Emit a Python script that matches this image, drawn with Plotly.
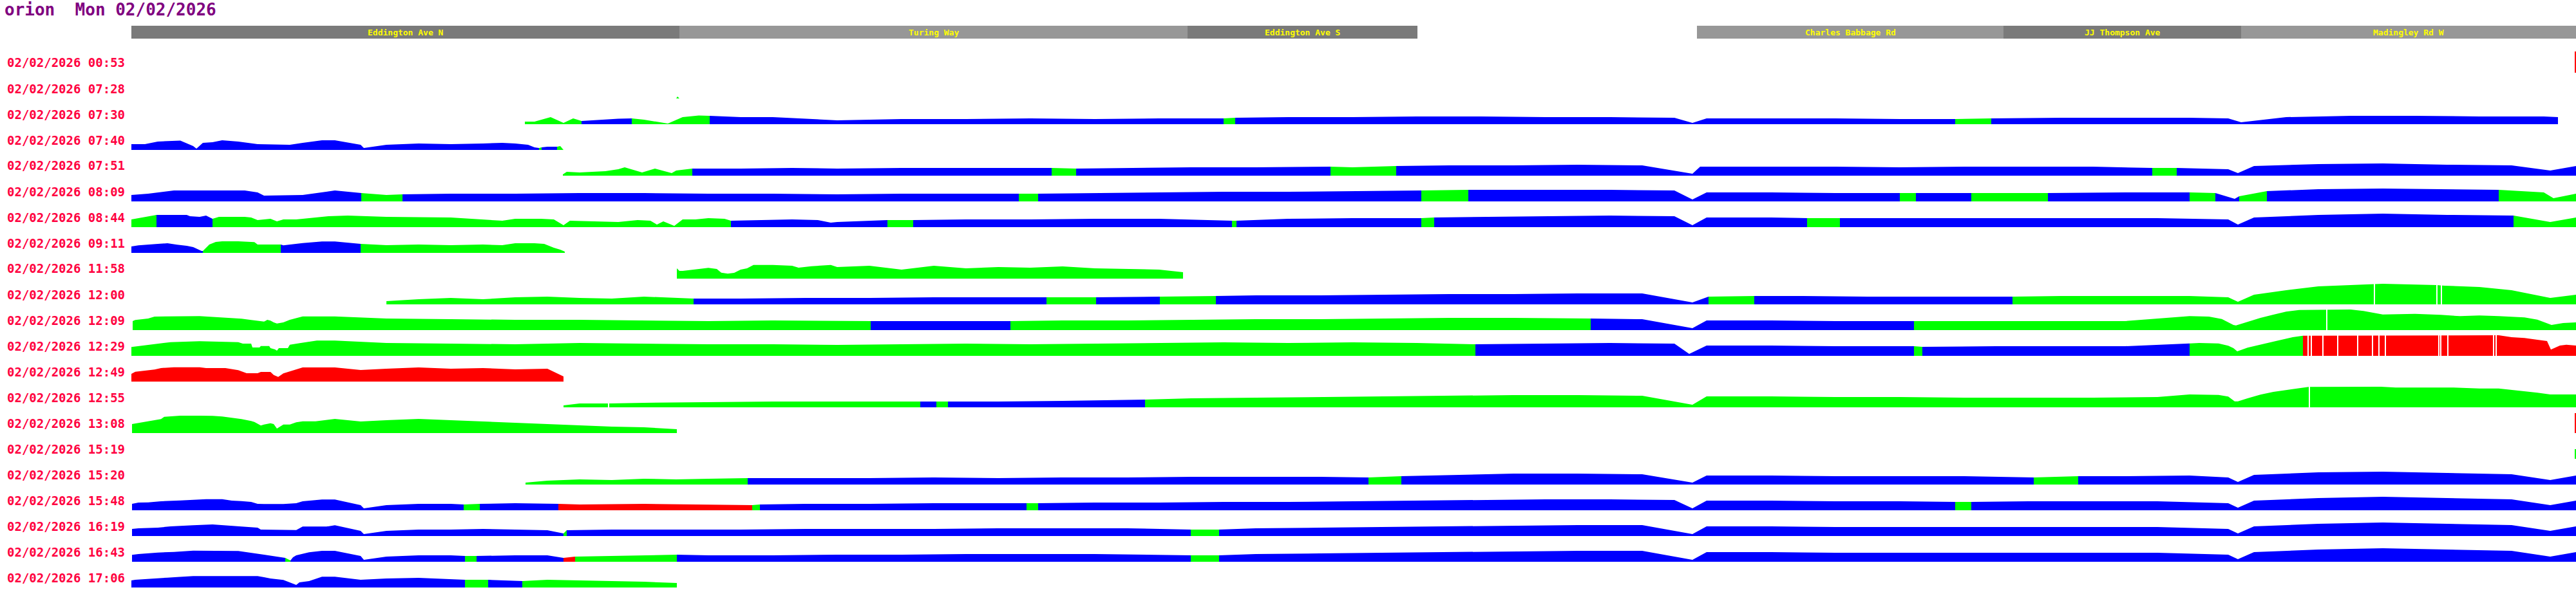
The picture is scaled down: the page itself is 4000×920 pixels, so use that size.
import plotly.graph_objects as go

FIG_W, FIG_H = 4000, 920
TITLE_TEXT = "orion\u00a0\u00a0Mon\u00a002/02/2026"
DATE = "02/02/2026"
TIMES = ["00:53", "07:28", "07:30", "07:40", "07:51", "08:09", "08:44", "09:11",
         "11:58", "12:00", "12:09", "12:29", "12:49", "12:55", "13:08", "15:19",
         "15:20", "15:48", "16:19", "16:43", "17:06"]

STREETS = ["Eddington Ave N", "Turing Way", "Eddington Ave S",
           "Charles Babbage Rd", "JJ Thompson Ave", "Madingley Rd W"]
STREET_X0 = [204, 1055, 1844, 2635, 3111, 3480]
STREET_X1 = [1055, 1844, 2201, 3111, 3480, 4000]
STREET_SHADE = ["dark", "light", "dark", "light", "dark", "light"]

# ---- per-trip profiles: x = route position, h = bar height, b = colour breaks, c = colour per span
x_0728 = [1050, 1052, 1055]
h_0728 = [0, 3, 0]
b_0728 = [1050, 1055]
c_0728 = "g"

x_0730 = [815, 830, 855, 875, 890, 903, 930, 960, 981, 1000, 1037, 1060, 1085, 1102, 1150, 1200, 1270, 1300, 1400, 1500,
          1600, 1700, 1800, 1900, 1918, 2000, 2100, 2200, 2300, 2400, 2500, 2600, 2628, 2650, 2750, 2850, 2950, 3036, 3092, 3200,
          3300, 3400, 3460, 3480, 3550, 3650, 3750, 3850, 3950, 3972]
h_0730 = [4, 4, 11, 2, 9, 5, 7, 8.5, 9, 7, 1, 11, 13.5, 13, 11, 11, 7, 6, 8, 8,
          9, 8, 9, 9, 10, 11, 11, 12, 12, 11, 11, 10, 2, 9, 9, 9, 8, 8, 9, 10,
          10, 10, 9, 3, 11, 13, 13, 12, 12, 11]
b_0730 = [815, 903, 981, 1102, 1900, 1918, 3036, 3092, 3972]
c_0730 = "gbgbgbgb"

x_0740 = [204, 225, 245, 270, 280, 300, 305, 315, 330, 345, 370, 400, 440, 450, 470, 500, 520, 560, 565, 600,
          650, 700, 750, 780, 800, 820, 830, 837, 841, 850, 865, 870, 875]
h_0740 = [9, 9, 13, 14, 14.5, 6, 2, 11, 12, 15, 13, 9, 8, 8, 11, 15, 15, 8, 3, 8,
          10, 9, 10, 11, 10, 8, 4, 3, 4, 5, 5, 6, 0]
b_0740 = [204, 837, 841, 865, 875]
c_0740 = "bgbg"

x_0751 = [874, 880, 900, 940, 960, 970, 997, 1017, 1043, 1050, 1075, 1150, 1230, 1300, 1400, 1500, 1633, 1671, 1750, 1850,
          1950, 2066, 2100, 2168, 2250, 2350, 2450, 2550, 2628, 2640, 2750, 2850, 2950, 3050, 3150, 3250, 3342, 3380, 3460, 3475,
          3500, 3600, 3700, 3800, 3900, 3960, 4000]
h_0751 = [2, 6, 5, 7, 10, 13, 5, 11, 4, 8, 11, 11, 12, 11, 12, 12, 12, 11, 12, 13,
          13, 14, 13, 15, 16, 16, 17, 16, 3, 14, 14, 14, 13, 14, 14, 14, 12, 12, 10, 4,
          15, 18, 19, 17, 16, 8, 15]
b_0751 = [874, 1075, 1633, 1671, 2066, 2168, 3342, 3380, 4000]
c_0751 = "gbgbgbgb"

x_0809 = [204, 230, 270, 330, 380, 400, 410, 470, 520, 561, 600, 625, 700, 800, 900, 1000, 1100, 1200, 1300, 1400,
          1500, 1582, 1612, 1700, 1800, 1900, 2000, 2100, 2207, 2280, 2400, 2500, 2600, 2628, 2650, 2750, 2850, 2950, 2975, 3061,
          3100, 3180, 3300, 3400, 3440, 3470, 3477, 3520, 3600, 3700, 3800, 3880, 3950, 3965, 4000]
h_0809 = [10, 12, 17, 17, 17, 14, 9, 10, 17, 13, 10, 11, 12, 12, 13, 13, 12, 12, 11, 12,
          12, 12, 12, 13, 14, 15, 15, 16, 17, 18, 18, 18, 17, 3, 14, 14, 13, 13, 13, 13,
          13, 13, 14, 14, 13, 4, 8, 16, 19, 20, 19, 18, 14, 5, 12]
b_0809 = [204, 561, 625, 1582, 1612, 2207, 2280, 2950, 2975, 3061, 3180, 3400, 3440, 3477, 3520, 3880, 4000]
c_0809 = "bgbgbgbgbgbgbgbg"

x_0844 = [204, 220, 243, 290, 295, 310, 320, 330, 340, 380, 390, 400, 420, 430, 440, 460, 510, 540, 600, 700,
          780, 800, 840, 860, 875, 885, 920, 960, 990, 1010, 1020, 1030, 1047, 1060, 1080, 1100, 1125, 1135, 1200, 1230,
          1270, 1290, 1300, 1378, 1418, 1500, 1600, 1700, 1800, 1913, 1920, 2000, 2100, 2207, 2227, 2300, 2400, 2500, 2600, 2628,
          2650, 2750, 2806, 2857, 2950, 3050, 3150, 3250, 3350, 3460, 3475, 3500, 3600, 3700, 3800, 3903, 3960, 4000]
h_0844 = [12, 15, 19, 19, 17, 16, 18, 13, 16, 16, 15, 11, 13, 9, 12, 12, 17, 18, 16, 15,
          10, 13, 13, 12, 3, 10, 9, 8, 11, 10, 4, 9, 2, 12, 12, 14, 13, 10, 11, 12,
          11, 7, 8, 11, 11, 12, 12, 13, 13, 10, 10, 13, 14, 14, 15, 16, 17, 18, 17, 3,
          15, 15, 14, 14, 14, 14, 14, 14, 14, 12, 4, 15, 19, 21, 19, 18, 8, 15]
b_0844 = [204, 243, 330, 1135, 1378, 1418, 1913, 1920, 2207, 2227, 2806, 2857, 3903, 4000]
c_0844 = "gbgbgbgbgbgbg"

x_0911 = [204, 215, 245, 260, 275, 290, 300, 313, 315, 325, 335, 345, 370, 395, 400, 436, 440, 470, 500, 520,
          560, 600, 650, 700, 750, 780, 800, 830, 845, 860, 870, 877]
h_0911 = [10, 11.7, 14, 15, 12.7, 11, 9, 3, 3, 13, 17, 18, 18, 16.7, 13, 13, 11.7, 15.3, 17.7, 17.7,
          14, 12, 13, 12, 13, 12, 15, 15, 14, 8, 5, 2]
b_0911 = [204, 315, 436, 560, 877]
c_0911 = "bgbg"

x_1158 = [1051, 1055, 1060, 1080, 1100, 1113, 1120, 1130, 1140, 1150, 1160, 1170, 1200, 1230, 1240, 1260, 1290, 1300, 1350, 1400,
          1450, 1500, 1550, 1600, 1650, 1700, 1750, 1800, 1837]
h_1158 = [16, 12, 12, 14.7, 16.7, 15, 9.3, 7.7, 9, 14, 16, 21.3, 21.3, 20, 17, 19.3, 21.3, 18, 20, 14,
          20, 16, 18, 17, 19, 16, 15, 14, 10]
b_1158 = [1051, 1837]
c_1158 = "g"

x_1200 = [600, 650, 700, 750, 800, 850, 900, 950, 1000, 1050, 1077, 1150, 1250, 1350, 1450, 1550, 1625, 1702, 1801, 1888,
          1950, 2050, 2150, 2250, 2350, 2450, 2550, 2628, 2653, 2724, 2800, 2900, 3000, 3100, 3125, 3200, 3300, 3400, 3460, 3475,
          3500, 3550, 3600, 3686, 3690, 3700, 3783, 3796, 3850, 3900, 3960, 4000]
h_1200 = [5, 8, 10, 8, 11, 12, 10, 9, 12, 10, 9, 9, 10, 10, 11, 11, 11, 11, 12, 13,
          14, 14, 15, 16, 16, 17, 17, 3, 12, 13, 13, 12, 12, 12, 12, 13, 13, 13, 11, 4,
          15, 22, 28, 32, 32, 32, 30, 29, 27, 22, 10, 15]
b_1200 = [600, 1077, 1625, 1702, 1801, 1888, 2653, 2724, 3125, 4000]
c_1200 = "gbgbgbgbg"
gaps_1200 = [3686, 3783, 3790]

x_1209 = [206, 210, 230, 240, 310, 320, 345, 360, 375, 390, 395, 410, 413, 415, 420, 425, 430, 440, 450, 470,
          520, 600, 700, 800, 900, 1000, 1100, 1200, 1300, 1352, 1450, 1569, 1650, 1750, 1850, 1950, 2050, 2150, 2250, 2350,
          2470, 2550, 2628, 2650, 2750, 2850, 2972, 2985, 3100, 3200, 3300, 3400, 3430, 3450, 3468, 3472, 3490, 3510, 3530, 3550,
          3570, 3612, 3614, 3650, 3670, 3690, 3700, 3750, 3790, 3820, 3850, 3880, 3920, 3940, 3958, 3962, 3980, 4000]
h_1209 = [14, 15.7, 18, 21, 21.7, 21, 19.7, 18, 17.7, 15.7, 15, 13.3, 14.7, 16, 14.7, 12, 10.3, 12, 16, 21.3,
          21.3, 18, 17, 16, 16, 15, 14, 15, 14, 14, 14, 14, 15, 15, 16, 17, 17, 18, 19, 19,
          18, 17, 3, 15, 15, 14, 14, 14, 14, 14, 14, 21.7, 21, 17.3, 8, 7.3, 12.7, 19, 24, 28.7,
          31.3, 32, 32, 32, 29.7, 26, 24.3, 25.3, 23.7, 21.7, 22.7, 21.7, 19.7, 16.3, 10, 8, 11, 12]
b_1209 = [206, 1352, 1569, 2470, 2972, 4000]
c_1209 = "gbgbg"
gaps_1209 = [3612]

x_1229 = [204, 215, 230, 250, 265, 310, 345, 370, 377, 390, 392, 403, 405, 418, 420, 427, 430, 433, 447, 450,
          467, 492, 520, 600, 700, 800, 900, 1000, 1100, 1200, 1300, 1400, 1500, 1600, 1700, 1800, 1900, 2000, 2100, 2200,
          2291, 2400, 2500, 2600, 2623, 2650, 2750, 2850, 2972, 2985, 3100, 3200, 3300, 3400, 3415, 3445, 3460, 3468, 3474, 3490,
          3510, 3535, 3560, 3576, 3880, 3900, 3920, 3940, 3955, 3961, 3975, 3985, 4000]
h_1229 = [13.7, 15, 17.3, 19.7, 21.3, 22.7, 22, 21.3, 19, 19, 13, 13, 15.3, 15.3, 12, 10, 8, 12, 12, 17.3,
          20, 23.7, 23.7, 20, 19, 18, 20, 19, 18, 18, 17, 18, 19, 18, 19, 20, 21, 20, 21, 20,
          18, 19, 20, 19, 3, 16, 16, 15, 15, 14, 15, 15, 15, 19.3, 20, 19.3, 15.7, 12, 7, 12.7,
          17.7, 23.3, 29, 31.3, 32, 29, 27.7, 25, 23, 9.7, 16, 17.3, 16]
b_1229 = [204, 2291, 2972, 2985, 3400, 3576, 4000]
c_1229 = "gbgbgr"
gaps_1229 = [3583, 3588, 3606, 3629, 3660, 3683, 3693, 3703, 3786, 3789, 3800, 3871, 3875]

x_1249 = [204, 210, 225, 240, 250, 270, 310, 320, 350, 360, 370, 383, 400, 405, 420, 425, 432, 440, 460, 470,
          520, 560, 600, 650, 700, 750, 800, 850, 875]
h_1249 = [12, 15.3, 17, 18.7, 21, 22.3, 22.3, 21, 21, 19.7, 17.7, 13, 13, 15, 15, 10.3, 7.3, 12.7, 19, 22,
          22, 18, 20, 22, 20, 21, 19, 20, 8]
b_1249 = [204, 875]
c_1249 = "r"

x_1255 = [875, 900, 944, 946, 1000, 1100, 1200, 1300, 1429, 1454, 1472, 1550, 1650, 1778, 1850, 1950, 2050, 2150, 2250, 2350,
          2450, 2550, 2628, 2650, 2750, 2850, 2950, 3050, 3150, 3250, 3350, 3400, 3445, 3460, 3470, 3475, 3490, 3510, 3530, 3555,
          3585, 3697, 3720, 3810, 3850, 3880, 3900, 3920, 3940, 3960, 3985, 4000]
h_1255 = [3, 6, 6, 6, 7, 8, 9, 9, 9, 9, 9, 9, 10, 12, 14, 15, 16, 17, 18, 19,
          19, 18, 4, 17, 17, 16, 16, 15, 15, 15, 16, 20, 19.3, 16.7, 9.3, 9.3, 14, 19.7, 24, 27.7,
          31.7, 32, 30.7, 30.7, 29.3, 29.3, 27.3, 25, 22.7, 20, 19.7, 20]
b_1255 = [875, 1429, 1454, 1472, 1778, 4000]
c_1255 = "gbgbg"
gaps_1255 = [944, 3585]

x_1308 = [205, 215, 225, 240, 250, 255, 280, 310, 330, 345, 360, 375, 390, 395, 405, 410, 420, 425, 430, 440,
          450, 460, 470, 490, 520, 560, 600, 650, 700, 750, 800, 850, 900, 950, 1000, 1051]
h_1308 = [14, 15.7, 17.3, 19.7, 21.7, 25.3, 27, 27, 26.7, 25.7, 24, 21.7, 18.7, 17.3, 11.7, 13.3, 15.3, 14, 7, 13.3,
          13.3, 16.7, 18.3, 18.3, 22, 18, 20, 22, 20, 18, 16, 14, 12, 10, 9, 6]
b_1308 = [205, 1051]
c_1308 = "g"

x_1520 = [816, 850, 900, 950, 1000, 1050, 1100, 1161, 1250, 1350, 1450, 1550, 1650, 1750, 1850, 1950, 2050, 2125, 2176, 2250,
          2350, 2450, 2550, 2628, 2650, 2750, 2850, 2950, 3050, 3158, 3227, 3300, 3400, 3460, 3475, 3500, 3600, 3700, 3800, 3900,
          3960, 4000]
h_1520 = [3, 6, 8, 7, 9, 8, 9, 10, 10, 10, 11, 10, 11, 11, 12, 12, 12, 11, 13, 15,
          17, 17, 16, 3, 14, 14, 13, 13, 13, 11, 13, 13, 14, 11, 4, 15, 19, 20, 18, 16,
          7, 14]
b_1520 = [816, 1161, 2125, 2176, 3158, 3227, 4000]
c_1520 = "gbgbgb"

x_1548 = [205, 215, 230, 250, 280, 300, 320, 345, 360, 375, 390, 400, 410, 440, 460, 470, 500, 520, 560, 565,
          600, 650, 700, 720, 745, 800, 867, 900, 1000, 1100, 1168, 1180, 1250, 1350, 1450, 1550, 1594, 1612, 1700, 1800,
          1900, 2000, 2100, 2200, 2300, 2400, 2500, 2600, 2628, 2650, 2750, 2850, 2950, 3036, 3061, 3150, 3250, 3350, 3460, 3475,
          3500, 3600, 3700, 3800, 3900, 3960, 4000]
h_1548 = [10, 12, 12.3, 14, 15.3, 16.3, 17.3, 17.3, 15, 14.3, 13, 10, 9.7, 9.7, 11, 14, 16.7, 16.7, 8, 3,
          8, 10, 10, 9, 10, 11, 10, 9, 10, 9, 8, 9, 10, 10, 11, 11, 11, 11, 12, 12,
          13, 13, 14, 15, 16, 17, 17, 16, 3, 15, 15, 14, 14, 13, 13, 14, 14, 14, 11, 4,
          15, 19, 21, 19, 17, 8, 15]
b_1548 = [205, 720, 745, 867, 1168, 1180, 1594, 1612, 3036, 3061, 4000]
c_1548 = "bgbrgbgbgb"

x_1619 = [205, 215, 245, 265, 300, 330, 375, 400, 405, 440, 460, 470, 507, 520, 560, 565, 600, 650, 700, 750,
          800, 850, 875, 880, 950, 1050, 1150, 1250, 1350, 1450, 1550, 1650, 1750, 1849, 1893, 1950, 2050, 2150, 2250, 2350,
          2450, 2550, 2628, 2650, 2750, 2850, 2950, 3050, 3150, 3250, 3350, 3460, 3475, 3500, 3600, 3700, 3800, 3900, 3960, 4000]
h_1619 = [11, 12, 13, 15, 16.7, 18, 14.7, 13, 10, 9.3, 9.3, 14.7, 14.7, 16.7, 8, 3, 8, 10, 10, 11,
          10, 9, 4, 9, 10, 10, 10, 11, 11, 11, 12, 12, 12, 10, 10, 12, 13, 14, 15, 16,
          17, 17, 3, 15, 15, 14, 14, 14, 14, 14, 14, 11, 4, 15, 19, 21, 19, 17, 8, 15]
b_1619 = [205, 875, 880, 1849, 1893, 4000]
c_1619 = "bgbgb"

x_1643 = [205, 215, 245, 270, 300, 340, 370, 410, 440, 443, 451, 455, 460, 480, 500, 520, 560, 565, 600, 650,
          700, 722, 740, 800, 850, 875, 893, 950, 1000, 1051, 1100, 1200, 1300, 1400, 1500, 1600, 1700, 1849, 1893, 1950,
          2050, 2150, 2250, 2350, 2450, 2550, 2628, 2650, 2750, 2850, 2950, 3050, 3150, 3250, 3350, 3460, 3475, 3500, 3600, 3700,
          3800, 3900, 3960, 4000]
h_1643 = [10.7, 12, 14.3, 15.3, 17.3, 17, 16.7, 11, 6, 6, 2, 7, 10, 14.7, 17, 17, 9, 3, 8, 10,
          10, 9, 9, 10, 10, 6, 8, 9, 10, 11, 10, 10, 11, 11, 12, 12, 12, 10, 10, 12,
          13, 14, 15, 16, 17, 17, 3, 15, 15, 14, 14, 14, 14, 14, 14, 11, 4, 15, 19, 21,
          19, 17, 8, 15]
b_1643 = [205, 443, 451, 722, 740, 875, 893, 1051, 1849, 1893, 4000]
c_1643 = "bgbgbrgbgb"

x_1706 = [204, 210, 225, 240, 260, 275, 300, 330, 400, 410, 420, 440, 450, 460, 465, 480, 500, 520, 560, 600,
          650, 700, 722, 758, 811, 850, 900, 950, 1000, 1051]
h_1706 = [11, 12, 13, 14.3, 15.3, 16.3, 17.7, 17.7, 17.7, 16, 14, 11.7, 8, 4, 8, 10, 16.7, 16.7, 12, 14,
          15, 13, 12, 12, 10, 12, 11, 10, 9, 7]
b_1706 = [204, 722, 758, 811, 1051]
c_1706 = "bgbg"

# full-height marks at the far end of the route
EDGE_TIMES = ["00:53", "13:08", "15:19"]
EDGE_COLORS = "rrg"
EDGE_H = [33, 31, 15]

ROW_DATA = {
    "07:28": (x_0728, h_0728, b_0728, c_0728, []),
    "07:30": (x_0730, h_0730, b_0730, c_0730, []),
    "07:40": (x_0740, h_0740, b_0740, c_0740, []),
    "07:51": (x_0751, h_0751, b_0751, c_0751, []),
    "08:09": (x_0809, h_0809, b_0809, c_0809, []),
    "08:44": (x_0844, h_0844, b_0844, c_0844, []),
    "09:11": (x_0911, h_0911, b_0911, c_0911, []),
    "11:58": (x_1158, h_1158, b_1158, c_1158, []),
    "12:00": (x_1200, h_1200, b_1200, c_1200, gaps_1200),
    "12:09": (x_1209, h_1209, b_1209, c_1209, gaps_1209),
    "12:29": (x_1229, h_1229, b_1229, c_1229, gaps_1229),
    "12:49": (x_1249, h_1249, b_1249, c_1249, []),
    "12:55": (x_1255, h_1255, b_1255, c_1255, gaps_1255),
    "13:08": (x_1308, h_1308, b_1308, c_1308, []),
    "15:20": (x_1520, h_1520, b_1520, c_1520, []),
    "15:48": (x_1548, h_1548, b_1548, c_1548, []),
    "16:19": (x_1619, h_1619, b_1619, c_1619, []),
    "16:43": (x_1643, h_1643, b_1643, c_1643, []),
    "17:06": (x_1706, h_1706, b_1706, c_1706, []),
}

# ---- styling / layout
COLORS = {"b": "#0000ff", "g": "#00ff00", "r": "#ff0000"}
SHADES = {"dark": "#7a7a7a", "light": "#979797"}
LABEL_TOP0 = 90      # px, top of first row label
ROW_STEP = 40        # px between rows
BASE_OFF = 23        # px from label top to bar baseline
YMAX = 34            # px of bar height range
MONO = "DejaVu Sans Mono"


def py(px):
    return (FIG_H - px) / FIG_H


fig = go.Figure()
layout_axes = {}
shapes = []
annotations = []

for i, t in enumerate(TIMES):
    base = LABEL_TOP0 + ROW_STEP * i + BASE_OFF
    ax = "y" if i == 0 else f"y{i + 1}"
    key = "yaxis" if i == 0 else f"yaxis{i + 1}"
    layout_axes[key] = dict(domain=[py(base), py(base - YMAX)], range=[0, YMAX], visible=False,
                            anchor="x", fixedrange=True)
    annotations.append(dict(text=f"<b>{DATE}\u00a0{t}</b>", xref="paper", yref="paper",
                            x=9 / FIG_W, y=py(LABEL_TOP0 + ROW_STEP * i + 7.5), xanchor="left", yanchor="middle",
                            showarrow=False, font=dict(family=MONO, size=19, color="#ff0040")))
    if t in ROW_DATA:
        xs, hs, bs, cs, gaps = ROW_DATA[t]
        for k, code in enumerate(cs):
            lo, hi = bs[k], bs[k + 1]
            px_ = [x for x in xs if lo <= x <= hi]
            ph_ = [h for x, h in zip(xs, hs) if lo <= x <= hi]
            col = COLORS[code]
            fig.add_trace(go.Scatter(x=px_, y=ph_, xaxis="x", yaxis=ax, mode="lines",
                                     line=dict(width=0, color=col), fill="tozeroy", fillcolor=col,
                                     hoverinfo="skip", showlegend=False))
        for g in gaps:
            shapes.append(dict(type="rect", xref="x", yref=ax, x0=g, x1=g + 2, y0=0, y1=YMAX,
                               fillcolor="white", line=dict(width=0), layer="above"))
    if t in EDGE_TIMES:
        j = EDGE_TIMES.index(t)
        shapes.append(dict(type="rect", xref="x", yref=ax, x0=3998, x1=4000, y0=0, y1=min(EDGE_H[j], YMAX),
                           fillcolor=COLORS[EDGE_COLORS[j]], line=dict(width=0), layer="above"))

# street header
for name, x0, x1, shade in zip(STREETS, STREET_X0, STREET_X1, STREET_SHADE):
    shapes.append(dict(type="rect", xref="x", yref="paper", x0=x0, x1=x1, y0=py(60), y1=py(40),
                       fillcolor=SHADES[shade], line=dict(width=0), layer="below"))
    annotations.append(dict(text=f"<b>{name}</b>", xref="x", yref="paper", x=(x0 + x1) / 2, y=py(50),
                            xanchor="center", yanchor="middle", showarrow=False,
                            font=dict(family=MONO, size=13, color="#ffff00")))

annotations.append(dict(text=f"<b>{TITLE_TEXT}</b>", xref="paper", yref="paper", x=5 / FIG_W, y=py(15),
                        xanchor="left", yanchor="middle", showarrow=False,
                        font=dict(family=MONO, size=26, color="#800080")))

fig.update_layout(
    width=FIG_W, height=FIG_H, margin=dict(l=0, r=0, t=0, b=0),
    paper_bgcolor="white", plot_bgcolor="white",
    xaxis=dict(range=[0, FIG_W], domain=[0, 1], visible=False, fixedrange=True),
    shapes=shapes, annotations=annotations, showlegend=False,
    **layout_axes,
)

fig.write_html("out.html", config={"displayModeBar": False, "staticPlot": True},
               post_script="document.body.style.margin='0';document.body.style.overflow='hidden';")
